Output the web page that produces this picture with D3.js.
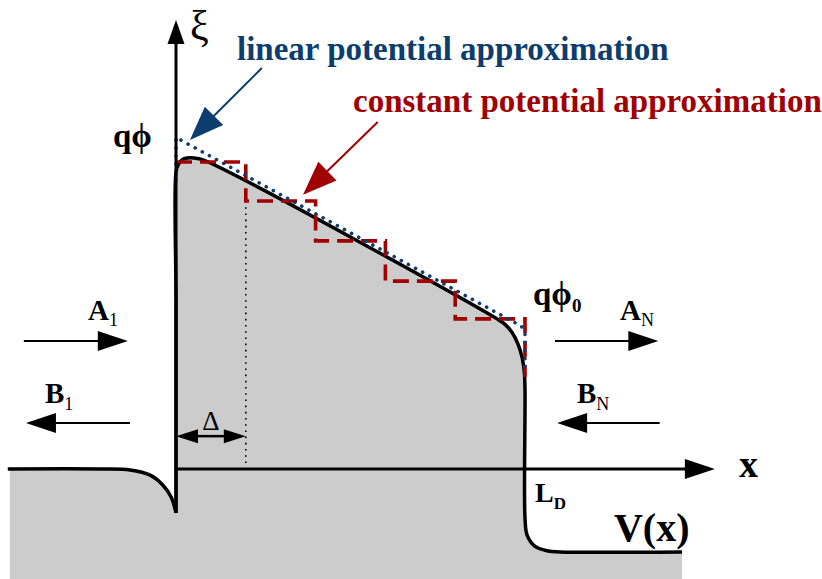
<!DOCTYPE html>
<html>
<head>
<meta charset="utf-8">
<script src="https://cdn.jsdelivr.net/npm/d3@7"></script>
<style>
  body { margin: 0; background: #fff; }
  text { font-family: "Liberation Serif", "Times New Roman", serif; }
</style>
</head>
<body>
<svg id="chart" width="822" height="579"></svg>
<script>
// x in units of the step width (Delta), y in units of q*phi (first step level)
const potLeft = [[-2.41, 0], [-1.09, 0], [-0.66, -0.003], [-0.37, -0.02], [-0.19, -0.052], [-0.07, -0.091], [0, -0.143]];
const potMain = [[0, -0.143], [0, 0.55], [0, 0.967], [0.03, 0.99], [0.086, 1.007], [0.158, 1.013], [0.26, 1.013],
  [0.387, 1.007], [4.6, 0.489], [4.71, 0.472], [4.81, 0.446], [4.9, 0.407], [4.96, 0.362], [4.99, 0.316],
  [5.0, 0.257], [5.0, -0.16], [5.03, -0.215], [5.14, -0.251], [5.33, -0.267], [5.5, -0.27], [7.25, -0.27]];
const stepEdges = [0, 1, 2, 3, 4, 5];
const stepLevels = [1.0, 0.873, 0.743, 0.612, 0.489];
const stepTail = 0.30;
const linearPot = [[0, 0.94], [0, 1.08], [4.95, 0.465], [5, 0.44], [5, 0.31]];

const W = 822, H = 579;
const x = d3.scaleLinear().domain([0, 5]).range([176, 525]);
const y = d3.scaleLinear().domain([0, 1]).range([469, 162]);

const svg = d3.select("#chart");
const line = d3.line().x(d => x(d[0])).y(d => y(d[1])).curve(d3.curveCatmullRom.alpha(0.5));
const straight = d3.line().x(d => x(d[0])).y(d => y(d[1]));

// grey region under V(x)
let fillPath = line(potLeft) + line(potMain).replace(/^M/, "L") +
  `L${x(7.25)},${H}L${x(-2.38)},${H}L${x(-2.38)},${y(0)}Z`;
svg.append("path").attr("d", fillPath).attr("fill", "#cccccc");

// dotted marker for Delta
svg.append("line")
  .attr("x1", x(1)).attr("x2", x(1))
  .attr("y1", y(stepLevels[1])).attr("y2", y(0.015))
  .attr("stroke", "#000").attr("stroke-width", 1.6)
  .attr("stroke-dasharray", "1.6,4.6");

// V(x)
svg.append("path").attr("d", line(potLeft)).attr("fill", "none")
  .attr("stroke", "#000").attr("stroke-width", 3.5);
svg.append("path").attr("d", line(potMain)).attr("fill", "none")
  .attr("stroke", "#000").attr("stroke-width", 3.5);

// constant potential approximation (steps)
let steps = [];
stepLevels.forEach((v, i) => {
  steps.push([stepEdges[i], v]);
  steps.push([stepEdges[i + 1], v]);
});
steps.push([stepEdges[stepEdges.length - 1], stepTail]);
svg.append("path").attr("d", straight(steps)).attr("fill", "none")
  .attr("stroke", "#a00000").attr("stroke-width", 3.6)
  .attr("stroke-dasharray", "16,8");

// linear potential approximation
svg.append("path").attr("d", straight(linearPot)).attr("fill", "none")
  .attr("stroke", "#0d3d6e").attr("stroke-width", 3.6)
  .attr("stroke-linecap", "round")
  .attr("stroke-dasharray", "0.1,8");

// arrow helper
function arrow(x1, y1, x2, y2, color, sw, hl, hw) {
  const dx = x2 - x1, dy = y2 - y1, len = Math.hypot(dx, dy);
  const ux = dx / len, uy = dy / len;
  const bx = x2 - ux * hl, by = y2 - uy * hl;
  svg.append("line").attr("x1", x1).attr("y1", y1).attr("x2", bx + ux).attr("y2", by + uy)
    .attr("stroke", color).attr("stroke-width", sw);
  svg.append("path")
    .attr("d", `M${x2},${y2}L${bx - uy * hw},${by + ux * hw}L${bx + uy * hw},${by - ux * hw}Z`)
    .attr("fill", color);
}

// axes
arrow(x(0), y(-0.143), x(0), y(1.4625), "#000", 3, 24, 8.5);
arrow(x(0), y(0), x(7.72), y(0), "#000", 3, 30, 10);

// wave arrows
arrow(x(-2.18), y(0.417), x(-0.69), y(0.417), "#000", 2, 30, 10);
arrow(x(-0.66), y(0.15), x(-2.15), y(0.15), "#000", 2, 30, 10);
arrow(x(5.43), y(0.417), x(6.91), y(0.417), "#000", 2, 30, 10);
arrow(x(6.93), y(0.15), x(5.46), y(0.15), "#000", 2, 30, 10);

// Delta double arrow
arrow(x(0.5), y(0.107), x(0), y(0.107), "#000", 2.5, 22, 7);
arrow(x(0.5), y(0.107), x(1), y(0.107), "#000", 2.5, 22, 7);

// callout arrows
arrow(x(1.23), y(1.306), x(0.2), y(1.072), "#0d3d6e", 2, 34, 13);
arrow(x(2.89), y(1.13), x(1.82), y(0.893), "#a00000", 2, 34, 13);

// labels
function label(tx, ty, parts, size, color, weight, anchor) {
  const t = svg.append("text").attr("x", tx).attr("y", ty)
    .attr("font-size", size).attr("fill", color || "#000")
    .attr("font-weight", weight || "bold")
    .attr("text-anchor", anchor || "start");
  parts.forEach(p => {
    const s = t.append("tspan").text(p.t);
    if (p.sub) s.attr("font-size", p.size || size * 0.62).attr("dy", p.dy || 6)
      .attr("font-weight", p.w || "normal");
  });
  return t;
}

label(x(0.2), y(1.397), [{t: "ξ"}], 42, "#000", "normal");
label(x(0.874), y(1.332), [{t: "linear potential approximation"}], 33, "#0d3d6e");
label(x(2.536), y(1.163), [{t: "constant potential approximation"}], 33, "#a00000");
label(x(-0.903), y(1.049), [{t: "qϕ"}], 33);
label(x(5.115), y(0.534), [{t: "qϕ"}, {t: "0", sub: true, size: 19, w: "bold", dy: 7}], 33);
label(x(-1.261), y(0.485), [{t: "A"}, {t: "1", sub: true, size: 18, dy: 6}], 29);
label(x(-1.877), y(0.215), [{t: "B"}, {t: "1", sub: true, size: 18, dy: 7}], 29);
label(x(6.361), y(0.485), [{t: "A"}, {t: "N", sub: true, size: 18, dy: 6}], 29);
label(x(5.745), y(0.215), [{t: "B"}, {t: "N", sub: true, size: 18, dy: 7}], 29);
label(x(5.143), y(-0.107), [{t: "L"}, {t: "D", sub: true, size: 17, w: "bold", dy: 7}], 28);
label(x(6.275), y(-0.235), [{t: "V(x)"}], 40);
label(x(8.066), y(-0.026), [{t: "x"}], 38);
label(x(0.5), y(0.127), [{t: "Δ"}], 27, "#000", "normal", "middle");
</script>
</body>
</html>
